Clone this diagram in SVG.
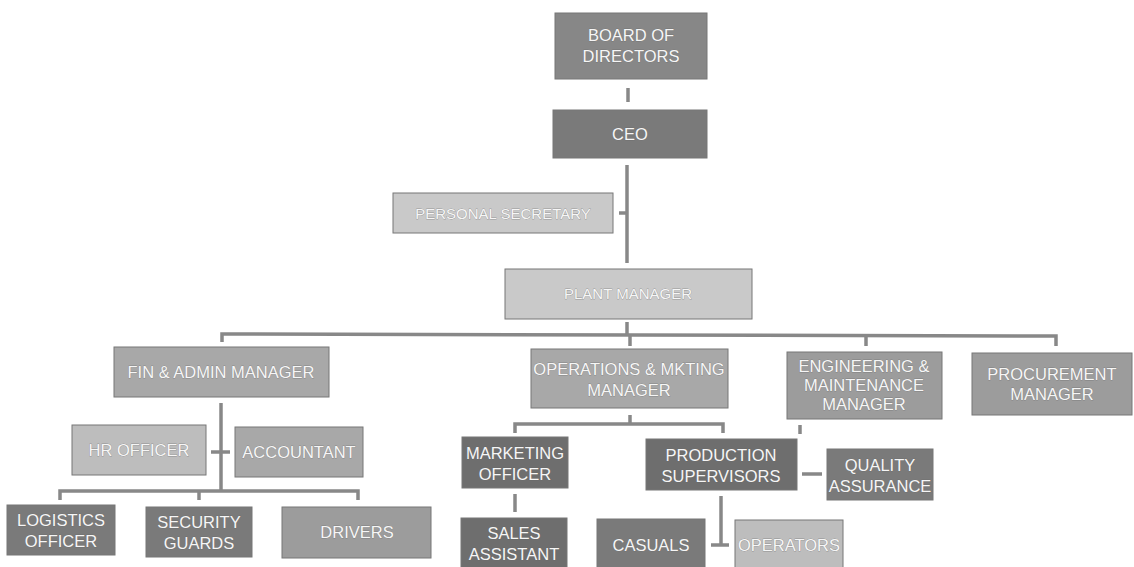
<svg xmlns="http://www.w3.org/2000/svg" width="1134" height="567" viewBox="0 0 1134 567">
<defs>
<style>
.bx{stroke:#777;stroke-width:1}
.t{font-family:"Liberation Sans",Arial,sans-serif;font-size:16.5px;fill:#f6f6f6;text-anchor:middle;stroke:#666;stroke-width:0.4;paint-order:stroke}
.s{font-size:15px}
.c{fill:none;stroke:#888;stroke-width:3.5;stroke-linecap:butt}
.d1{fill:#878787}.d2{fill:#7a7a7a}.d3{fill:#6e6e6e}.m1{fill:#9c9c9c}.m2{fill:#a8a8a8}.l1{fill:#bdbdbd}.l2{fill:#c9c9c9}
</style>
</defs>
<rect width="1134" height="567" fill="#ffffff"/>
<g id="connectors">
<line class="c" x1="628" y1="88" x2="628" y2="102"/>
<line class="c" x1="627" y1="165" x2="627" y2="263"/>
<line class="c" x1="619" y1="213" x2="627" y2="213"/>
<line class="c" x1="627" y1="322" x2="627" y2="334"/>
<polyline class="c" points="222,342 222,334 1056,336 1056,346"/>
<line class="c" x1="630" y1="334" x2="630" y2="346"/>
<line class="c" x1="866" y1="335" x2="866" y2="346"/>
<line class="c" x1="221" y1="403" x2="221" y2="491"/>
<line class="c" x1="211" y1="452" x2="230" y2="452"/>
<polyline class="c" points="60,500 60,491 358,491 358,500"/>
<line class="c" x1="199" y1="491" x2="199" y2="500"/>
<line class="c" x1="630" y1="415" x2="630" y2="424"/>
<polyline class="c" points="515,433 515,424 723,424 723,433"/>
<line class="c" x1="515" y1="494" x2="515" y2="512"/>
<line class="c" x1="721" y1="496" x2="721" y2="545"/>
<line class="c" x1="711" y1="545" x2="729" y2="545"/>
<line class="c" x1="800" y1="425" x2="800" y2="434"/>
<line class="c" x1="802" y1="474" x2="822" y2="474"/>
</g>
<g id="board"><rect class="bx d1" x="555" y="13" width="152" height="66"/><text class="t" x="631" y="41">BOARD OF</text><text class="t" x="631" y="62">DIRECTORS</text></g>
<g id="ceo"><rect class="bx d2" x="553" y="110" width="154" height="48"/><text class="t" x="630" y="140">CEO</text></g>
<g id="secretary"><rect class="bx l2" x="393" y="193" width="220" height="40"/><text class="t s" x="503" y="219">PERSONAL SECRETARY</text></g>
<g id="plant"><rect class="bx l2" x="505" y="269" width="247" height="50"/><text class="t s" x="628" y="299">PLANT MANAGER</text></g>
<g id="fin"><rect class="bx m2" x="114" y="347" width="215" height="50"/><text class="t" x="221" y="378">FIN &amp; ADMIN MANAGER</text></g>
<g id="ops"><rect class="bx m2" x="531" y="349" width="197" height="59"/><text class="t" x="629" y="375">OPERATIONS &amp; MKTING</text><text class="t" x="629" y="396">MANAGER</text></g>
<g id="eng"><rect class="bx m1" x="787" y="352" width="155" height="67"/><text class="t" x="864" y="372">ENGINEERING &amp;</text><text class="t" x="864" y="391">MAINTENANCE</text><text class="t" x="864" y="410">MANAGER</text></g>
<g id="proc"><rect class="bx m1" x="972" y="353" width="160" height="62"/><text class="t" x="1052" y="380">PROCUREMENT</text><text class="t" x="1052" y="400">MANAGER</text></g>
<g id="hr"><rect class="bx l1" x="72" y="425" width="134" height="50"/><text class="t" x="139" y="456">HR  OFFICER</text></g>
<g id="accountant"><rect class="bx m2" x="235" y="427" width="128" height="50"/><text class="t" x="299" y="458">ACCOUNTANT</text></g>
<g id="logistics"><rect class="bx d2" x="7" y="505" width="108" height="50"/><text class="t" x="61" y="526">LOGISTICS</text><text class="t" x="61" y="547">OFFICER</text></g>
<g id="security"><rect class="bx d2" x="146" y="507" width="106" height="50"/><text class="t" x="199" y="528">SECURITY</text><text class="t" x="199" y="549">GUARDS</text></g>
<g id="drivers"><rect class="bx m1" x="282" y="507" width="149" height="51"/><text class="t" x="357" y="538">DRIVERS</text></g>
<g id="marketing"><rect class="bx d3" x="462" y="437" width="106" height="51"/><text class="t" x="515" y="459">MARKETING</text><text class="t" x="515" y="480">OFFICER</text></g>
<g id="production"><rect class="bx d3" x="646" y="439" width="151" height="51"/><text class="t" x="721" y="461">PRODUCTION</text><text class="t" x="721" y="482">SUPERVISORS</text></g>
<g id="quality"><rect class="bx d2" x="827" y="449" width="106" height="51"/><text class="t" x="880" y="471">QUALITY</text><text class="t" x="880" y="492">ASSURANCE</text></g>
<g id="sales"><rect class="bx d3" x="461" y="518" width="106" height="52"/><text class="t" x="514" y="539">SALES</text><text class="t" x="514" y="560">ASSISTANT</text></g>
<g id="casuals"><rect class="bx d2" x="597" y="519" width="108" height="52"/><text class="t" x="651" y="551">CASUALS</text></g>
<g id="operators"><rect class="bx l1" x="735" y="520" width="108" height="51"/><text class="t" x="789" y="551">OPERATORS</text></g>
</svg>
